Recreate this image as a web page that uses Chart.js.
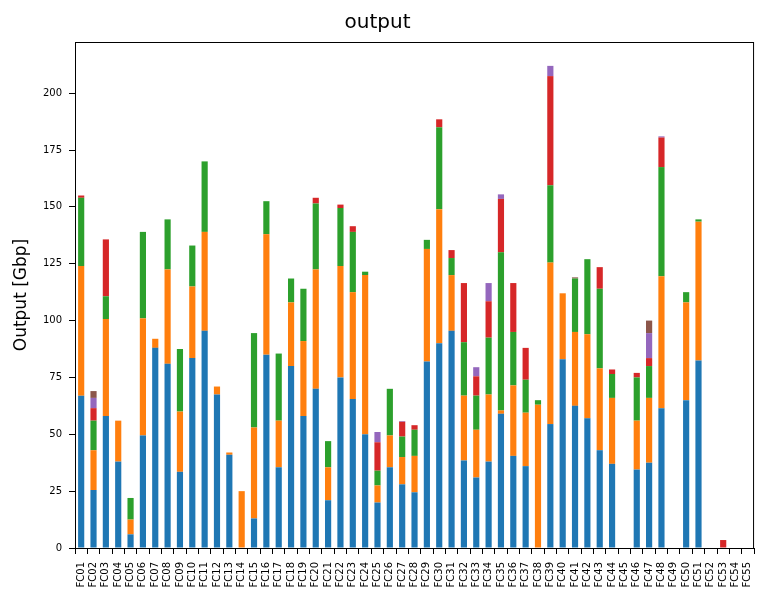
<!DOCTYPE html>
<html>
<head>
<meta charset="utf-8">
<script src="https://cdn.jsdelivr.net/npm/chart.js@4"></script>
<style>
  html, body { margin: 0; padding: 0; background: #fff; }
  #wrap { width: 768px; height: 604px; }
</style>
</head>
<body>
<div id="wrap"><canvas id="output"></canvas></div>
<script>
var labels = []
for (var i = 1; i <= 55; i++) labels.push('FC' + String(i).padStart(2, '0'))

// values per flow cell, stacked in this order
var serie1 = [67,25.5,58,38,6,49.5,88,81,33.5,83.5,95.5,67.5,41,0,13,85,35.5,80,58,70,21,75,65.5,50,20,35.5,28,24.5,82,90,95.5,38.5,31,38,59,40.5,36,0,54.5,83,62.5,57,43,37,0,34.5,37.5,61.5,0,65,82.5,0,0,0,0]
var serie2 = [57,17.5,42.7,18,6.5,51.5,4,41.5,26.5,31.5,43.5,3.5,1,25,40,53,20.5,28,33,52.5,14.5,49,47,70,7.5,14,12,16,49.5,59,24.5,28.5,21,29.5,1.5,31,23.5,63,71,29,32.5,37,36,29,0,21.5,28.5,58,0,43,61,0,0,0,0]
var serie3 = [30,13,10,0,9.5,38,0,22,27.5,18,31,0,0,0,41.5,14.5,29.5,10.5,23,29,11.5,25.5,26.5,1.5,6.5,20.5,9,11.5,4,36,7.5,23.5,15,25,69.5,23.5,14.5,2,34,0,23.5,33,35,10.5,0,19,14,48,0,4.5,1,0,0,0,0]
var serie4 = [1,5.5,25,0,0,0,0,0,0,0,0,0,0,0,0,0,0,0,0,2.5,0,1.5,2.5,0,12.5,0,6.5,2,0,3.5,3.5,26,8.5,16,23.5,21.5,14,0,48,0,0,0,9.5,2,0,2,3.5,13,0,0,0,0,3.5,0,0]
var serie5 = [0,4.5,0,0,0,0,0,0,0,0,0,0,0,0,0,0,0,0,0,0,0,0,0,0,4.5,0,0.3,0,0,0,0,0,4,8,2,0,0,0,4.5,0,0,0,0,0,0,0,11,0.5,0,0,0,0,0,0,0]
var serie6 = [0,3,0,0,0,0,0,0,0,0,0,0,0,0,0,0,0,0,0,0,0,0,0,0,0,0,0,0,0,0,0,0,0,0,0,0,0,0,0,0,0.5,0,0,0,0,0,5.5,0,0,0,0,0,0,0,0]

var cores = ['#1f77b4', '#ff7f0e', '#2ca02c', '#d62728', '#9467bd', '#8c564b']
var series = [serie1, serie2, serie3, serie4, serie5, serie6]

Chart.defaults.font.family = 'DejaVu Sans'
Chart.defaults.color = '#000'

// matplotlib style closed frame around the axes
var moldura = {
  id: 'moldura',
  afterDraw(chart) {
    var a = chart.chartArea, ctx = chart.ctx
    ctx.save()
    ctx.strokeStyle = '#000'
    ctx.lineWidth = 1
    ctx.strokeRect(a.left + 0.5, a.top + 0.5, a.right - a.left - 1, a.bottom - a.top)
    ctx.restore()
  }
}

new Chart(document.getElementById('output'), {
  type: 'bar',
  data: {
    labels: labels,
    datasets: series.map(function (s, i) {
      return {
        label: 'serie' + (i + 1),
        data: s,
        backgroundColor: cores[i],
        borderWidth: 0,
        barPercentage: 0.5,
        categoryPercentage: 1
      }
    })
  },
  options: {
    responsive: true,
    maintainAspectRatio: false,
    animation: false,
    layout: { padding: { left: 0, right: 13, top: 0, bottom: 0 } },
    plugins: {
      legend: { display: false },
      tooltip: { enabled: false },
      title: {
        display: true,
        text: 'output',
        color: '#000',
        font: { size: 20, weight: 'normal' },
        padding: { top: 11, bottom: 7 }
      }
    },
    scales: {
      x: {
        stacked: true,
        offset: true,
        grid: { display: true, drawOnChartArea: false, color: '#000', tickLength: 6 },
        border: { color: '#000' },
        ticks: { autoSkip: false, minRotation: 90, maxRotation: 90, font: { size: 10 }, padding: 8 },
        afterFit: function (scale) { scale.height = 56 }
      },
      y: {
        stacked: true,
        min: 0,
        max: 222.5,
        grid: { display: true, drawOnChartArea: false, color: '#000', tickLength: 6 },
        border: { color: '#000' },
        ticks: { stepSize: 25, includeBounds: false, font: { size: 10 }, padding: 7 },
        title: { display: true, text: 'Output [Gbp]', font: { size: 17 }, padding: { top: 11, bottom: 0 } },
        afterFit: function (scale) { scale.width = 75 }
      }
    }
  },
  plugins: [moldura]
})
</script>
</body>
</html>
